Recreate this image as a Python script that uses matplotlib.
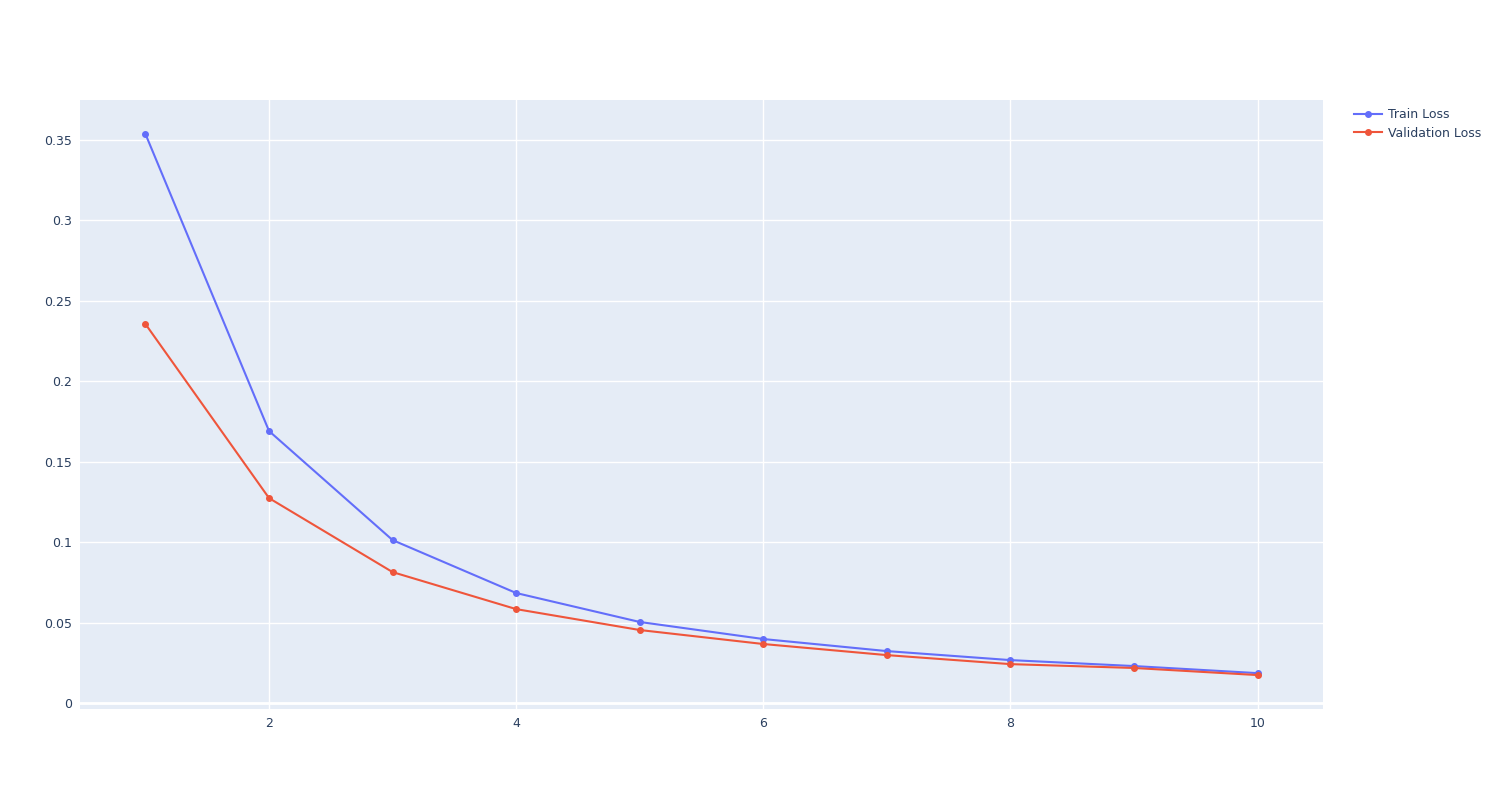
import matplotlib
matplotlib.use("Agg")
import matplotlib.pyplot as plt
from matplotlib.ticker import FuncFormatter, MultipleLocator

epochs = [1, 2, 3, 4, 5, 6, 7, 8, 9, 10]
train_loss = [0.3537, 0.1691, 0.1013, 0.0684, 0.0504, 0.0398, 0.0323, 0.0267, 0.0230, 0.0186]
val_loss = [0.2356, 0.1274, 0.0814, 0.0584, 0.0454, 0.0367, 0.0298, 0.0242, 0.0218, 0.0174]
series_names = ["Train Loss", "Validation Loss"]

W, H = 1496, 790
fig = plt.figure(figsize=(W / 100, H / 100), dpi=100)
ax = fig.add_axes([80 / W, (H - 709) / H, 1243 / W, 609 / H])
ax.set_facecolor("#E5ECF6")

ax.plot(epochs, train_loss, color="#636efa", lw=1.5, marker="o", ms=4, label=series_names[0], zorder=3)
ax.plot(epochs, val_loss, color="#EF553B", lw=1.5, marker="o", ms=4, label=series_names[1], zorder=3)

ax.set_xlim(0.47, 10.53)
ax.set_ylim(-0.0037, 0.3749)
ax.xaxis.set_major_locator(MultipleLocator(2))
ax.yaxis.set_major_locator(MultipleLocator(0.05))

def fmt(v, pos):
    s = f"{v:.2f}".rstrip("0").rstrip(".")
    return "0" if s in ("-0", "0") else s

ax.yaxis.set_major_formatter(FuncFormatter(fmt))
ax.xaxis.set_major_formatter(FuncFormatter(lambda v, p: f"{int(round(v))}"))
ax.grid(True, color="white", lw=1)
ax.set_axisbelow(True)
ax.axhline(0, color="white", lw=2, zorder=1)
for s in ax.spines.values():
    s.set_visible(False)
ax.tick_params(axis="both", length=0, labelsize=9, colors="#2a3f5f", pad=6)

leg = fig.legend(loc="upper left", bbox_to_anchor=(1354 / W, 1 - 108 / H), frameon=False,
                 fontsize=9, labelcolor="#2a3f5f", handlelength=2.2, handletextpad=0.5,
                 labelspacing=0.45, borderaxespad=0, borderpad=0)

fig.savefig("out.png", dpi=100)
